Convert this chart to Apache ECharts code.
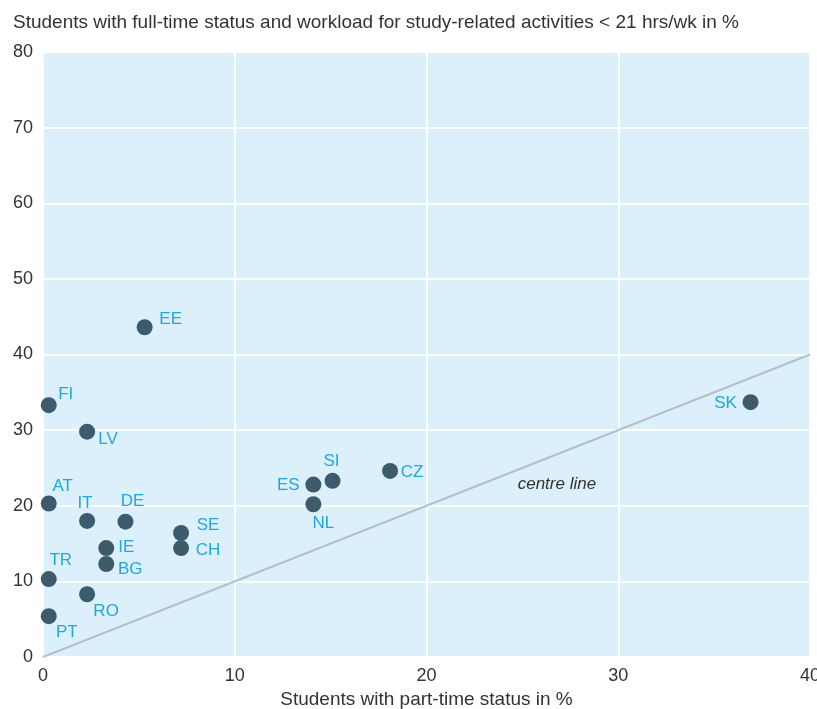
<!DOCTYPE html>
<html>
<head>
<meta charset="utf-8">
<script src="https://cdn.jsdelivr.net/npm/echarts@6/dist/echarts.min.js"></script>
<style>html,body{margin:0;padding:0;background:#fff}#c{width:817px;height:709px}</style>
</head>
<body>
<div id="c"></div>
<script>
const countries = ['EE','FI','LV','AT','IT','DE','SE','CH','IE','BG','TR','RO','PT','ES','SI','NL','CZ','SK'];
const partTime  = [5.3, 0.3, 2.3, 0.3, 2.3, 4.3, 7.2, 7.2, 3.3, 3.3, 0.3, 2.3, 0.3, 14.1, 15.1, 14.1, 18.1, 36.9];
const fullTime  = [43.6, 33.3, 29.8, 20.3, 18.0, 17.9, 16.4, 14.4, 14.4, 12.3, 10.3, 8.3, 5.4, 22.8, 23.3, 20.2, 24.6, 33.7];
const centreLineX = [0, 40];
const centreLineY = [0, 40];
const xTicks = [0, 10, 20, 30, 40];
const yTicks = [0, 10, 20, 30, 40, 50, 60, 70, 80];

const labelOffsets = {
  EE:[26,-8], FI:[17,-11], LV:[21,8], AT:[14,-17], IT:[-2,-18], DE:[7,-20],
  SE:[27,-8], CH:[27,2], IE:[20,-1], BG:[24,5], TR:[12,-19], RO:[19,17],
  PT:[18,16], ES:[-25,1], SI:[-1,-19], NL:[10,19], CZ:[22,1], SK:[-25,1]
};
const FONT = '"Liberation Sans", Arial, sans-serif';

const points = countries.map((c, i) => ({
  name: c,
  value: [partTime[i], fullTime[i]],
  label: { offset: labelOffsets[c] }
}));

const chart = echarts.init(document.getElementById('c'));
chart.setOption({
  animation: false,
  textStyle: { fontFamily: FONT },
  title: {
    text: 'Students with full-time status and workload for study-related activities < 21 hrs/wk in %',
    left: 8, top: 8,
    textStyle: { fontFamily: FONT, fontSize: 19, fontWeight: 'normal', color: '#333' }
  },
  grid: { left: 43, right: 7, top: 52, bottom: 52, show: true, backgroundColor: '#dcf0fb', borderWidth: 0, outerBoundsMode: 'none', containLabel: false },
  xAxis: {
    type: 'value', min: xTicks[0], max: xTicks[xTicks.length-1], interval: 10,
    name: 'Students with part-time status in %', nameLocation: 'middle', nameGap: 33,
    nameTextStyle: { fontFamily: FONT, fontSize: 19, color: '#333' },
    axisLine: { show: false }, axisTick: { show: false },
    axisLabel: { fontFamily: FONT, fontSize: 18, color: '#333', margin: 10 },
    splitLine: { show: true, lineStyle: { color: '#ffffff', width: 2 } }
  },
  yAxis: {
    type: 'value', min: yTicks[0], max: yTicks[yTicks.length-1], interval: 10,
    axisLine: { show: false }, axisTick: { show: false },
    axisLabel: { fontFamily: FONT, fontSize: 18, color: '#333', margin: 10 },
    splitLine: { show: true, lineStyle: { color: '#ffffff', width: 2 } }
  },
  series: [
    {
      type: 'line',
      data: centreLineX.map((x, i) => [x, centreLineY[i]]),
      symbol: 'none',
      lineStyle: { color: '#b3c0c7', width: 2 },
      silent: true,
      z: 2,
      markPoint: {
        symbol: 'circle', symbolSize: 0,
        data: [{ coord: [26.8, 22.8], value: 'centre line' }],
        label: { show: true, formatter: 'centre line', color: '#333', fontStyle: 'italic', fontSize: 17, fontFamily: FONT, position: 'inside' }
      }
    },
    {
      type: 'scatter',
      data: points,
      symbolSize: 16,
      itemStyle: { color: '#3c5b6d', opacity: 1 },
      z: 3,
      label: {
        show: true, position: 'inside', formatter: '{b}',
        color: '#1ea8e3', fontSize: 17, fontFamily: FONT
      }
    }
  ]
});
</script>
</body>
</html>
